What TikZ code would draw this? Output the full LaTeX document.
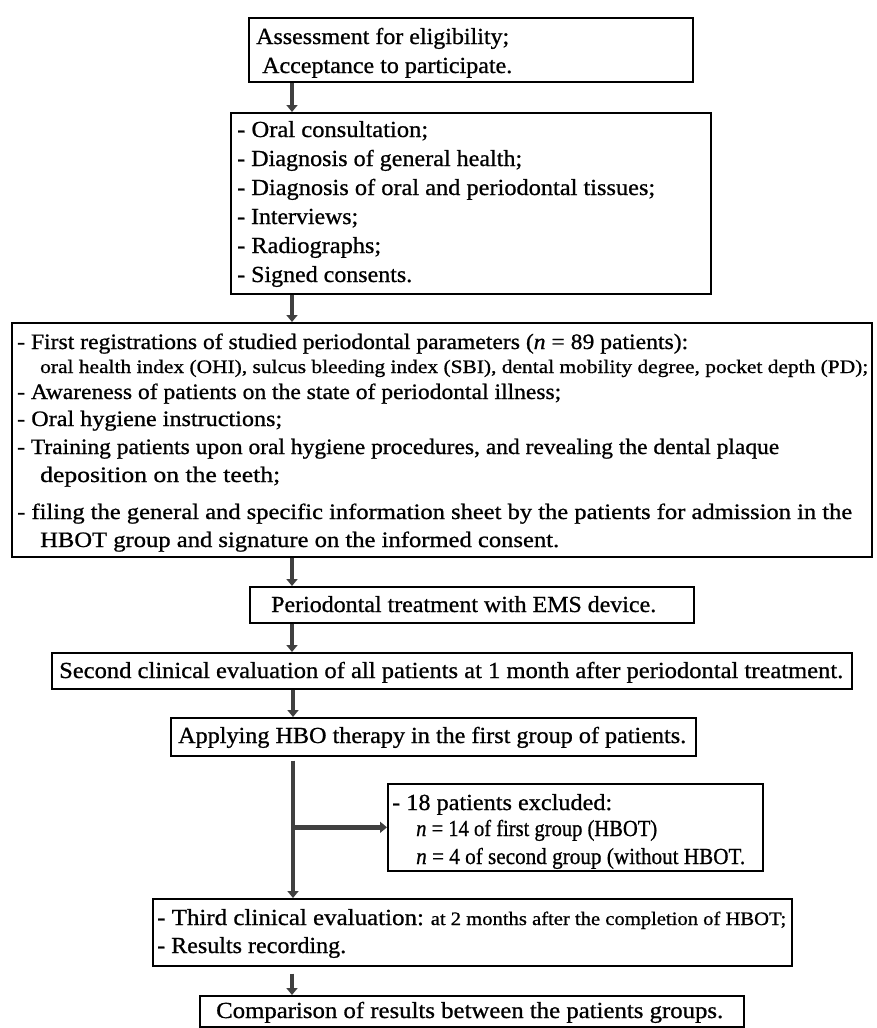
\documentclass[tikz,border=0pt]{standalone}
\usepackage{fontspec}
\setmainfont{Liberation Serif}[FakeBold=0.8]
\usepackage{graphicx}
\usetikzlibrary{arrows.meta}
\definecolor{arrowgray}{RGB}{64,64,64}
\newsavebox\fitbox
\newcommand\fitw[2]{\sbox\fitbox{#2}\pgfmathsetmacro\fitratio{#1/\the\wd\fitbox}\scalebox{\fitratio}[1]{\usebox\fitbox}}
\newcommand\reffont{\fontsize{23}{28}\selectfont}
\newcommand\midreffont{\fontsize{22}{27}\selectfont}
\newcommand\smallreffont{\fontsize{19}{23}\selectfont}
\tikzset{
  box/.style={draw=black, line width=1.6pt, inner sep=0pt, anchor=north west, fill=white},
  arr/.style={draw=arrowgray, line width=4.5pt, -{Triangle[width=11pt,length=7pt]}},
  txt/.style={anchor=base west, inner sep=0pt, font=\reffont},
  mtxt/.style={anchor=base west, inner sep=0pt, font=\midreffont},
  stxt/.style={anchor=base west, inner sep=0pt, font=\smallreffont},
}
\begin{document}
\begin{tikzpicture}[x=1pt,y=-1pt]
\useasboundingbox (0,0) rectangle (876,1028);
\fill[white] (0,0) rectangle (876,1028);

% boxes
\node[box, minimum width=444pt, minimum height=64pt] (b1) at (248,17) {};
\node[box, minimum width=480pt, minimum height=181pt] (b2) at (230,112) {};
\node[box, minimum width=860pt, minimum height=234pt] (b3) at (11,322) {};
\node[box, minimum width=444pt, minimum height=36pt] (b4) at (249,586) {};
\node[box, minimum width=800pt, minimum height=36pt] (b5) at (51,652) {};
\node[box, minimum width=525pt, minimum height=38pt] (b6) at (170,717) {};
\node[box, minimum width=375pt, minimum height=87pt] (b8) at (387,783) {};
\node[box, minimum width=639pt, minimum height=67pt] (b7) at (152,898) {};
\node[box, minimum width=544pt, minimum height=31pt] (b9) at (199,995) {};

% texts
\node[txt] (t1a) at (256,44) {\fitw{253}{Assessment for eligibility;}};
\node[txt] (t1b) at (262,73) {\fitw{250}{Acceptance to participate.}};

\node[txt] (t2a) at (237,137) {\fitw{191}{- Oral consultation;}};
\node[txt] (t2b) at (237,166) {\fitw{285}{- Diagnosis of general health;}};
\node[txt] (t2c) at (237,195) {\fitw{418}{- Diagnosis of oral and periodontal tissues;}};
\node[txt] (t2d) at (237,224) {\fitw{121}{- Interviews;}};
\node[txt] (t2e) at (237,253) {\fitw{144}{- Radiographs;}};
\node[txt] (t2f) at (237,282) {\fitw{175}{- Signed consents.}};

\node[mtxt] (t3a) at (17,349) {\fitw{671}{- First registrations of studied periodontal parameters (\textit{n} = 89 patients):}};
\node[stxt] (t3b) at (40,373) {\fitw{828}{oral health index (OHI), sulcus bleeding index (SBI), dental mobility degree, pocket depth (PD);}};
\node[mtxt] (t3c) at (17,399) {\fitw{544}{- Awareness of patients on the state of periodontal illness;}};
\node[mtxt] (t3d) at (17,426) {\fitw{265}{- Oral hygiene instructions;}};
\node[mtxt] (t3e) at (17,454) {\fitw{762}{- Training patients upon oral hygiene procedures, and revealing the dental plaque}};
\node[mtxt] (t3f) at (40,482) {\fitw{240}{deposition on the teeth;}};
\node[mtxt] (t3g) at (17,519) {\fitw{835}{- filing the general and specific information sheet by the patients for admission in the}};
\node[mtxt] (t3h) at (40,547) {\fitw{519}{HBOT group and signature on the informed consent.}};

\node[txt] (t4) at (271,612) {\fitw{385}{Periodontal treatment with EMS device.}};
\node[txt] (t5) at (59,678) {\fitw{784}{Second clinical evaluation of all patients at 1 month after periodontal treatment.}};
\node[txt] (t6) at (178,743) {\fitw{508}{Applying HBO therapy in the first group of patients.}};

\node[txt] (t8a) at (392,810) {\fitw{220}{- 18 patients excluded:}};
\node[txt] (t8b) at (416,836) {\fitw{241}{\textit{n} = 14 of first group (HBOT)}};
\node[txt] (t8c) at (416,864) {\fitw{329}{\textit{n} = 4 of second group (without HBOT.}};

\node[txt] (t7a) at (157,925) {\fitw{629}{- Third clinical evaluation:{\smallreffont{} at 2 months after the completion of HBOT;}}};
\node[txt] (t7b) at (157,953) {\fitw{189}{- Results recording.}};

\node[txt] (t9) at (216,1018) {\fitw{507}{Comparison of results between the patients groups.}};

% connectors
\coordinate (ax) at (292,0);
\coordinate (ay) at (293,0);
\draw[arr] (ax |- b1.south) -- (ax |- b2.north);
\draw[arr] (ax |- b2.south) -- (ax |- b3.north);
\draw[arr] (ax |- b3.south) -- (ax |- b4.north);
\draw[arr] (ax |- b4.south) -- (ax |- b5.north);
\draw[arr] (ay |- b5.south) -- (ay |- b6.north);
\coordinate (top6) at ([yshift=-4pt]ay |- b6.south);
\draw[arr] (top6) -- (ay |- b7.north);
\coordinate (branch) at (ay |- b8.west);
\draw[arr] (branch) -- (b8.west);
\draw[arr] ([yshift=-7pt]ax |- b7.south) -- (ax |- b9.north);
\end{tikzpicture}
\end{document}
